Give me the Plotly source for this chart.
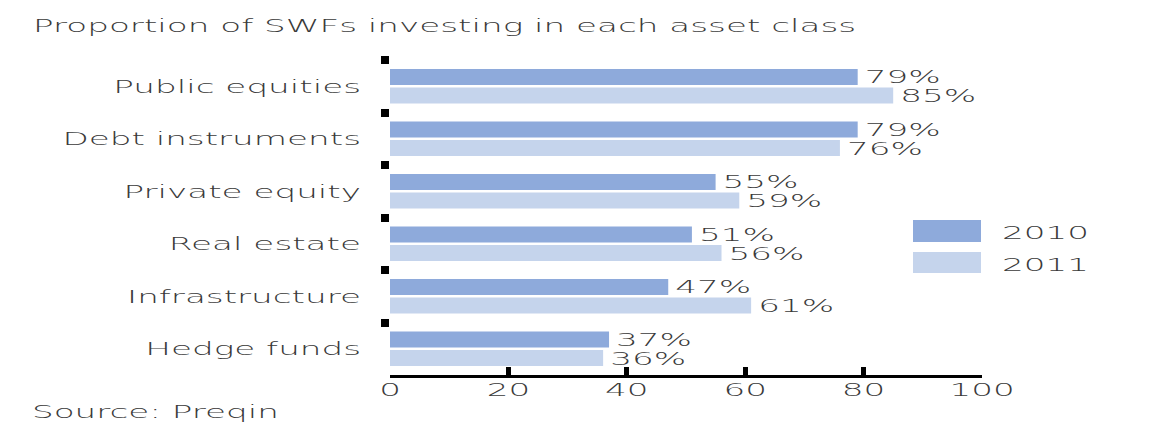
import plotly.graph_objects as go

# Survey data: share of sovereign wealth funds investing in each asset class (%)
asset_classes = [
    "Public equities",
    "Debt instruments",
    "Private equity",
    "Real estate",
    "Infrastructure",
    "Hedge funds",
]
share_2010 = [79, 79, 55, 51, 47, 37]
share_2011 = [85, 76, 59, 56, 61, 36]
series_names = ["2010", "2011"]
x_ticks = [0, 20, 40, 60, 80, 100]

title_text = "Proportion of SWFs investing in each asset class"
source_text = "Source: Preqin"

COLORS = ["#8EAADB", "#C5D4EC"]
TEXT_COLOR = "#3a3a3a"
FONT = dict(family="DejaVu Sans", size=18, color=TEXT_COLOR, weight=300)

# Figure geometry (pixels)
W, H = 1151, 441
PLOT_L, PLOT_R, PLOT_T, PLOT_B = 390, 982, 60, 375


def px_x(px):
    """Horizontal pixel -> paper coordinate."""
    return (px - PLOT_L) / (PLOT_R - PLOT_L)


def px_y(py):
    """Vertical pixel (from top) -> paper coordinate."""
    return (PLOT_B - py) / (PLOT_B - PLOT_T)


fig = go.Figure()
for name, values, color in zip(series_names, [share_2010, share_2011], COLORS):
    fig.add_trace(
        go.Bar(
            y=asset_classes,
            x=values,
            name=name,
            orientation="h",
            marker=dict(color=color, line=dict(width=0)),
            texttemplate="%{x}%",
            textposition="outside",
            textfont=FONT,
            constraintext="none",
            cliponaxis=False,
            showlegend=False,
            hoverinfo="skip",
        )
    )

# Legend drawn as large swatches with labels on the right
legend_rows = [(220, 242, 232), (252, 273, 264)]
shapes = []
annotations = []
for (top, bottom, mid), name, color in zip(legend_rows, series_names, COLORS):
    shapes.append(
        dict(
            type="rect", xref="paper", yref="paper",
            x0=px_x(913), x1=px_x(981), y0=px_y(bottom), y1=px_y(top),
            fillcolor=color, line=dict(width=0), layer="above",
        )
    )
    annotations.append(
        dict(
            text=name, xref="paper", yref="paper",
            x=px_x(1000), y=px_y(mid), xanchor="left", yanchor="middle",
            align="left", showarrow=False, font=FONT,
        )
    )

annotations.append(
    dict(
        text=source_text, xref="paper", yref="paper",
        x=px_x(30), y=px_y(411), xanchor="left", yanchor="middle",
        align="left", showarrow=False, font=FONT,
    )
)

fig.update_layout(
    width=W,
    height=H,
    margin=dict(l=PLOT_L, r=W - PLOT_R, t=PLOT_T, b=H - PLOT_B, pad=0),
    paper_bgcolor="white",
    plot_bgcolor="white",
    barmode="group",
    bargap=0.29,
    bargroupgap=0.14,
    font=FONT,
    title=dict(
        text=title_text,
        font=FONT,
        xref="container", yref="container",
        x=33 / W, xanchor="left",
        y=1 - 26 / H, yanchor="middle",
    ),
    xaxis=dict(
        range=[0, 100],
        tickvals=x_ticks,
        ticktext=[str(v) for v in x_ticks],
        showgrid=False,
        zeroline=False,
        showline=True,
        linecolor="black",
        linewidth=3,
        ticks="inside",
        ticklen=8,
        tickwidth=5,
        tickcolor="black",
        tickfont=FONT,
        ticklabelstandoff=-4,
        fixedrange=True,
    ),
    yaxis=dict(
        type="category",
        categoryorder="array",
        categoryarray=asset_classes,
        autorange="reversed",
        showgrid=False,
        zeroline=False,
        showline=False,
        tickson="boundaries",
        ticks="outside",
        ticklen=8,
        tickwidth=8,
        tickcolor="black",
        ticklabelstandoff=28,
        tickfont=FONT,
        fixedrange=True,
    ),
    shapes=shapes,
    annotations=annotations,
)

# Widen every text element horizontally around its anchor point;
# value labels next to the bars also get a little extra clearance.
stretch_js = """
var gd = document.getElementById('{plot_id}');
var S = 1.9;
gd.querySelectorAll('text').forEach(function(t){
  var bb;
  try { bb = t.getBBox(); } catch (e) { return; }
  if (!bb || !bb.width) return;
  var a = window.getComputedStyle(t).textAnchor || t.getAttribute('text-anchor') || 'start';
  var cx, dx = 0;
  if (t.classList.contains('bartext')) { cx = bb.x; dx = 4; }
  else if (a === 'middle') cx = bb.x + bb.width / 2;
  else if (a === 'end') cx = bb.x + bb.width;
  else cx = bb.x;
  var tr = t.getAttribute('transform') || '';
  t.setAttribute('transform', tr + ' translate(' + (cx + dx) + ',0) scale(' + S + ',1) translate(' + (-cx) + ',0)');
});
"""

fig.write_html("out.html", post_script=stretch_js, config={"displayModeBar": False})
